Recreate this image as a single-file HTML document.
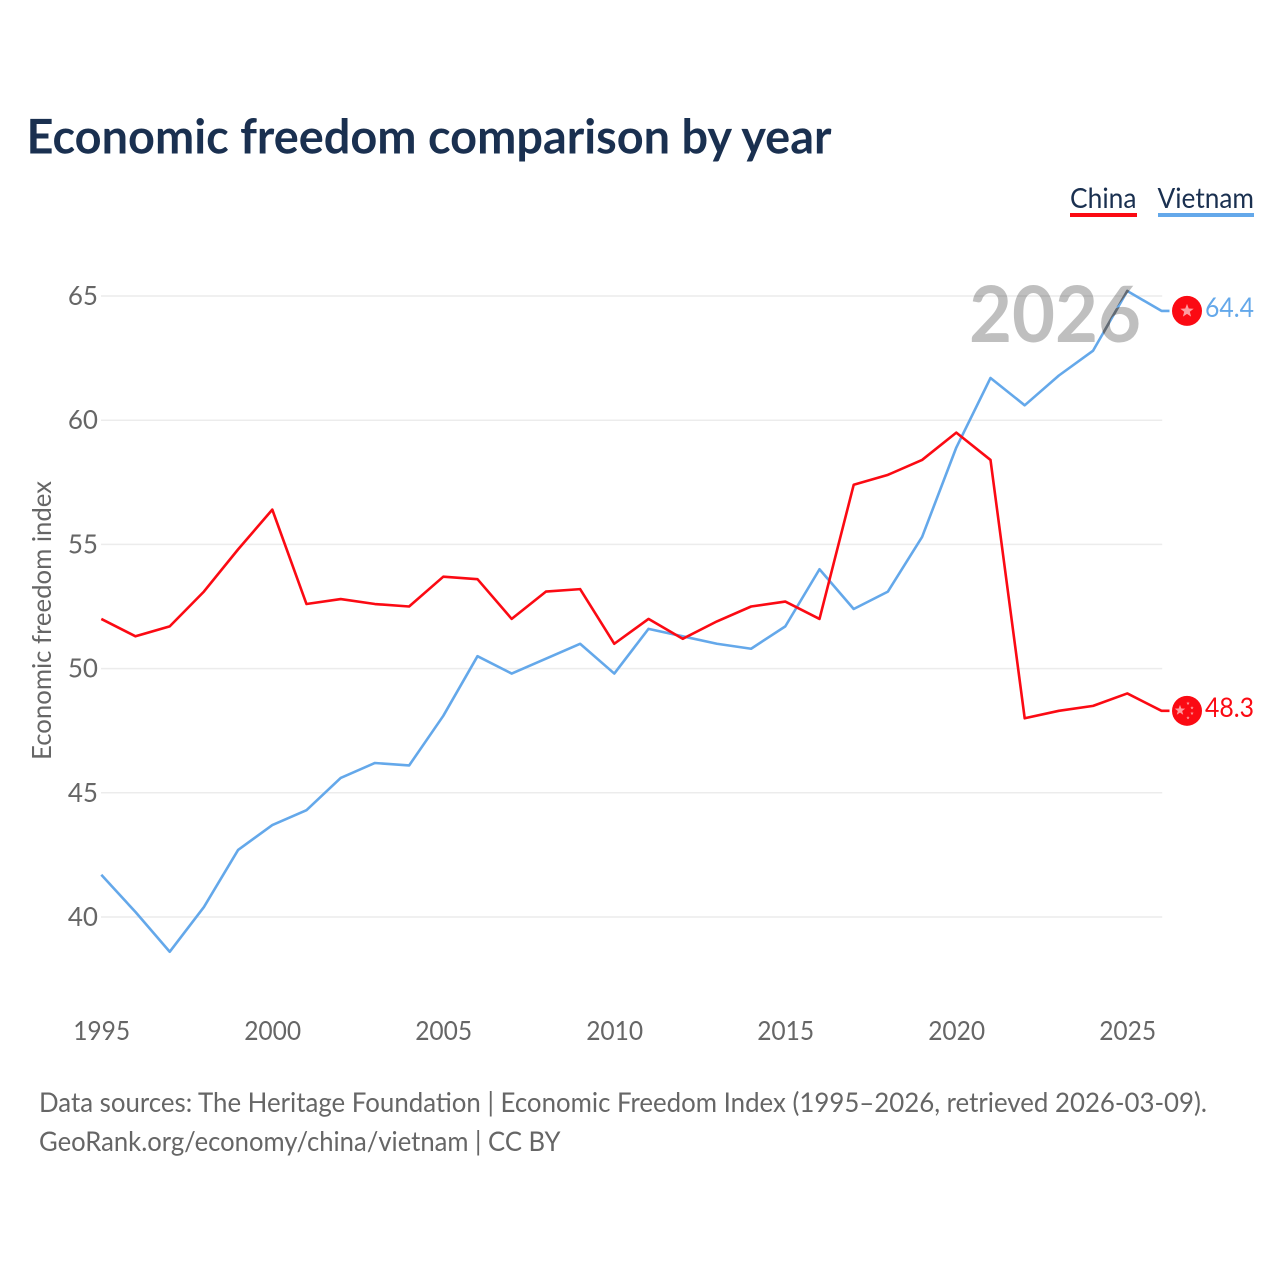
<!DOCTYPE html>
<html lang="en">
<head>
<meta charset="utf-8">
<title>Economic freedom comparison by year</title>
<style>
html,body{margin:0;padding:0;background:#fff}
svg{display:block}
text{font-family:"Lato","Carlito","Liberation Sans",sans-serif}
</style>
</head>
<body>
<svg id="chart" width="1280" height="1280" viewBox="0 0 1280 1280" xmlns="http://www.w3.org/2000/svg">
  <defs>
    <clipPath id="watermark-clip">
      <text x="1055" y="342" text-anchor="middle" font-size="78" font-weight="700" textLength="172" lengthAdjust="spacingAndGlyphs">2026</text>
    </clipPath>
  </defs>
  <rect width="1280" height="1280" fill="#fff"/>
  <text x="26.5" y="153.7" font-size="48" font-weight="700" fill="#1a3050" textLength="805" lengthAdjust="spacingAndGlyphs">Economic freedom comparison by year</text>

  <g>
    <g>
      <text x="1070" y="208" font-size="28" fill="#1a3050" textLength="66.5" lengthAdjust="spacingAndGlyphs">China</text>
      <rect x="1070" y="213" width="67" height="4" fill="#fb0a13"/>
    </g>
    <g>
      <text x="1157.5" y="208" font-size="28" fill="#1a3050" textLength="96.5" lengthAdjust="spacingAndGlyphs">Vietnam</text>
      <rect x="1158" y="213" width="96" height="4" fill="#64a8ea"/>
    </g>
  </g>

  <text transform="translate(51,620.5) rotate(-90)" text-anchor="middle" font-size="26" fill="#666" textLength="279" lengthAdjust="spacingAndGlyphs">Economic freedom index</text>

  <g id="grid"></g>
  <g id="yticks"></g>
  <g id="xticks"></g>
  <g id="series"></g>

  <text x="1055" y="342" text-anchor="middle" font-size="78" font-weight="700" fill="#000" fill-opacity="0.25" textLength="172" lengthAdjust="spacingAndGlyphs">2026</text>
  <g id="overlap" clip-path="url(#watermark-clip)"></g>

  <g id="ends"></g>

  <text x="39" y="1112" font-size="27.3" fill="#666" textLength="1168" lengthAdjust="spacingAndGlyphs">Data sources: The Heritage Foundation | Economic Freedom Index (1995–2026, retrieved 2026-03-09).</text>
  <text x="39" y="1151" font-size="27.3" fill="#666" textLength="521.5" lengthAdjust="spacingAndGlyphs">GeoRank.org/economy/china/vietnam | CC BY</text>
</svg>
<script>
const years = [1995,1996,1997,1998,1999,2000,2001,2002,2003,2004,2005,2006,2007,2008,2009,2010,2011,2012,2013,2014,2015,2016,2017,2018,2019,2020,2021,2022,2023,2024,2025,2026];
const chinaValues = [52.0,51.3,51.7,53.1,54.8,56.4,52.6,52.8,52.6,52.5,53.7,53.6,52.0,53.1,53.2,51.0,52.0,51.2,51.9,52.5,52.7,52.0,57.4,57.8,58.4,59.5,58.4,48.0,48.3,48.5,49.0,48.3];
const vietnamValues = [41.7,40.2,38.6,40.4,42.7,43.7,44.3,45.6,46.2,46.1,48.1,50.5,49.8,50.4,51.0,49.8,51.6,51.3,51.0,50.8,51.7,54.0,52.4,53.1,55.3,58.9,61.7,60.6,61.8,62.8,65.2,64.4];
const yTickValues = [40,45,50,55,60,65];
const xTickValues = [1995,2000,2005,2010,2015,2020,2025];

const NS = 'http://www.w3.org/2000/svg';
const xScale = year => 101.3 + (year - 1995) * 34.2;
const yScale = value => 917 - (value - 40) * 24.84;

function make(tag, attrs, parent, content) {
  const el = document.createElementNS(NS, tag);
  for (const key in attrs) el.setAttribute(key, attrs[key]);
  if (content !== undefined) el.textContent = content;
  parent.appendChild(el);
  return el;
}

const grid = document.getElementById('grid');
const yticks = document.getElementById('yticks');
const xticks = document.getElementById('xticks');
const series = document.getElementById('series');
const overlap = document.getElementById('overlap');
const ends = document.getElementById('ends');

yTickValues.forEach(v => {
  const line = make('line', {x1: 101, x2: xScale(2026) + 0.7, y1: yScale(v), y2: yScale(v), stroke: '#ececec', 'stroke-width': 1.5}, grid);
  
  
  const label = make('text', {x: 98, y: yScale(v) + 9, 'text-anchor': 'end', 'font-size': 26, fill: '#666'}, yticks, String(v));
  
  
});

xTickValues.forEach(v => {
  const label = make('text', {x: xScale(v) + 0.4, y: 1040, 'text-anchor': 'middle', 'font-size': 26, fill: '#666', textLength: 57, lengthAdjust: 'spacingAndGlyphs'}, xticks, String(v));
  
  
});

function pathFrom(values) {
  const pts = values.map((v, i) => (i ? 'L' : 'M') + xScale(years[i]).toFixed(2) + ' ' + yScale(v).toFixed(2));
  const last = values[values.length - 1];
  pts.push('L' + (xScale(years[years.length - 1]) + 8).toFixed(2) + ' ' + yScale(last).toFixed(2));
  return pts.join(' ');
}

const vietnamLine = make('path', {d: pathFrom(vietnamValues), fill: 'none', stroke: '#64a8ea', 'stroke-width': 2.6, 'stroke-linejoin': 'round'}, series);


const chinaLine = make('path', {d: pathFrom(chinaValues), fill: 'none', stroke: '#fb0a13', 'stroke-width': 2.6, 'stroke-linejoin': 'round'}, series);


const overlapLine = make('path', {d: pathFrom(vietnamValues), fill: 'none', stroke: '#636a72', 'stroke-width': 2.6, 'stroke-linejoin': 'round'}, overlap);



function star(cx, cy, r, parent) {
  const pts = [];
  for (let i = 0; i < 10; i++) {
    const rad = i % 2 ? r * 0.42 : r;
    const a = -Math.PI / 2 + i * Math.PI / 5;
    pts.push((cx + rad * Math.cos(a)).toFixed(2) + ',' + (cy + rad * Math.sin(a)).toFixed(2));
  }
  const el = make('polygon', {points: pts.join(' '), fill: '#ffffff', 'fill-opacity': 0.6}, parent);
  
  
}

const lastVietnam = vietnamValues[vietnamValues.length - 1];
const lastChina = chinaValues[chinaValues.length - 1];
const markerX = xScale(2026) + 25.5;

const vnFlag = make('circle', {cx: markerX, cy: yScale(lastVietnam), r: 15, fill: '#fb0a13'}, ends);


star(markerX, yScale(lastVietnam), 7, ends);
const vnLabel = make('text', {x: 1254, y: yScale(lastVietnam) + 6, 'text-anchor': 'end', 'font-size': 27, fill: '#64a8ea', textLength: 49, lengthAdjust: 'spacingAndGlyphs'}, ends, lastVietnam.toFixed(1));



const cnFlag = make('circle', {cx: markerX, cy: yScale(lastChina), r: 15, fill: '#fb0a13'}, ends);


const cnY = yScale(lastChina);
star(markerX - 7, cnY - 0.5, 5.5, ends);
star(markerX + 1, cnY - 7.5, 1.8, ends);
star(markerX + 5, cnY - 3, 1.8, ends);
star(markerX + 5, cnY + 2.5, 1.8, ends);
star(markerX + 1, cnY + 7, 1.8, ends);
const cnLabel = make('text', {x: 1254, y: cnY + 6, 'text-anchor': 'end', 'font-size': 27, fill: '#fb0a13', textLength: 49, lengthAdjust: 'spacingAndGlyphs'}, ends, lastChina.toFixed(1));


</script>
</body>
</html>
